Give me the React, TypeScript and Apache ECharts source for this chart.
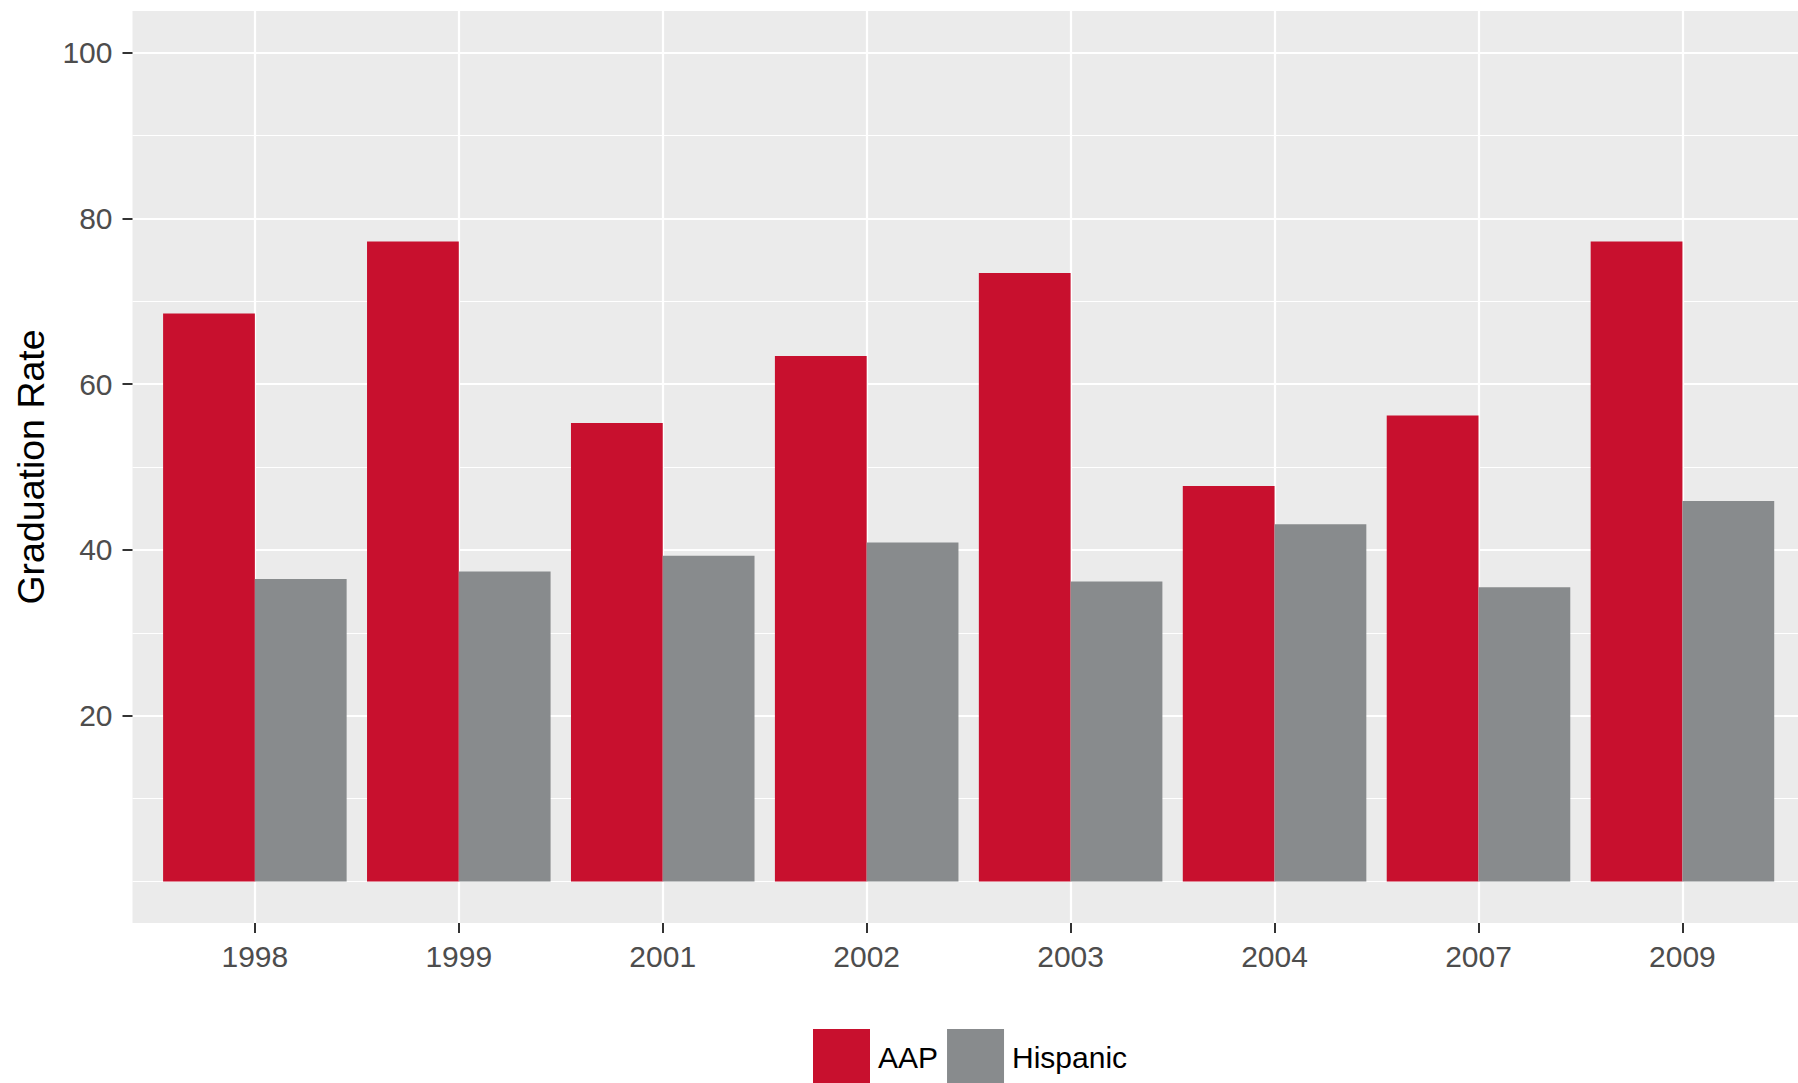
import React, { useEffect, useRef } from "react";
import * as echarts from "echarts";

const years = ["1998", "1999", "2001", "2002", "2003", "2004", "2007", "2009"];
const aapRates = [68.5, 77.2, 55.3, 63.4, 73.4, 47.7, 56.2, 77.2];
const hispanicRates = [36.5, 37.4, 39.3, 40.9, 36.2, 43.1, 35.5, 45.9];
const yTickLabels = [20, 40, 60, 80, 100];

const RED = "#C8102E";
const GRAY = "#888B8D";
const PANEL_BG = "#EBEBEB";
const FONT = "'Liberation Sans', Arial, sans-serif";

// layout (pixels)
const PANEL_LEFT = 132.5;
const PANEL_TOP = 11;
const PANEL_H = 912;
const PANEL_W = 1673;
const CAT_W = 203.94;
const FIRST_CAT = PANEL_LEFT + 0.6 * CAT_W;
const Y_MIN = -5;
const Y_MAX = 105;
const PX = PANEL_H / (Y_MAX - Y_MIN);
const yPix = (v: number) => PANEL_TOP + (Y_MAX - v) * PX;

export default function App() {
  const ref = useRef<HTMLDivElement>(null);
  useEffect(() => {
    document.body.style.margin = "0";
    const chart = echarts.init(ref.current!, undefined, { renderer: "svg" });
    const hidden = { show: false };
    const option: any = {
      animation: false,
      backgroundColor: "#FFFFFF",
      textStyle: { fontFamily: FONT },
      grid: [
        // 0: bars
        { left: FIRST_CAT - 0.5 * CAT_W, top: PANEL_TOP, width: 8 * CAT_W, height: PANEL_H, outerBoundsMode: "none" },
        // 1: panel background
        { left: PANEL_LEFT, top: PANEL_TOP, width: PANEL_W, height: PANEL_H, show: true, backgroundColor: PANEL_BG, borderWidth: 0, outerBoundsMode: "none" },
        // 2: minor horizontal grid
        { left: PANEL_LEFT, top: yPix(100), width: PANEL_W, height: yPix(0) - yPix(100), outerBoundsMode: "none" },
        // 3: major horizontal grid + labels
        { left: PANEL_LEFT, top: yPix(100), width: PANEL_W, height: yPix(20) - yPix(100), outerBoundsMode: "none" },
        // 4: vertical grid lines
        { left: FIRST_CAT, top: PANEL_TOP, width: 7 * CAT_W, height: PANEL_H, outerBoundsMode: "none" },
      ],
      xAxis: [
        {
          gridIndex: 0,
          type: "category",
          data: years,
          position: "bottom",
          axisLine: { show: false, onZero: false },
          axisTick: { show: true, alignWithLabel: true, length: 10, lineStyle: { color: "#333333", width: 2 } },
          axisLabel: { color: "#4D4D4D", fontSize: 30, margin: 18, fontFamily: FONT },
          splitLine: { show: false },
        },
        { gridIndex: 1, type: "value", ...hidden },
        { gridIndex: 2, type: "value", ...hidden },
        { gridIndex: 3, type: "value", ...hidden },
        {
          gridIndex: 4,
          type: "category",
          data: years,
          boundaryGap: false,
          axisLine: { show: false, onZero: false },
          axisTick: { show: false },
          axisLabel: { show: false },
          splitLine: { show: true, interval: 0, lineStyle: { color: "#FFFFFF", width: 2.2 } },
        },
      ],
      yAxis: [
        { gridIndex: 0, type: "value", min: Y_MIN, max: Y_MAX, ...hidden },
        {
          gridIndex: 1,
          type: "value",
          min: 0,
          max: 1,
          axisLine: { show: false, onZero: false },
          axisTick: { show: false },
          axisLabel: { show: false },
          splitLine: { show: false },
          name: "Graduation Rate",
          nameLocation: "middle",
          nameGap: 83,
          nameTextStyle: { fontSize: 37.5, color: "#000000", fontFamily: FONT },
        },
        {
          gridIndex: 2,
          type: "value",
          min: 0,
          max: 100,
          interval: 10,
          axisLine: { show: false, onZero: false },
          axisTick: { show: false },
          axisLabel: { show: false },
          splitLine: { show: true, lineStyle: { color: "#FFFFFF", width: 1.1 } },
        },
        {
          gridIndex: 3,
          type: "value",
          min: yTickLabels[0],
          max: yTickLabels[yTickLabels.length - 1],
          interval: 20,
          axisLine: { show: false, onZero: false },
          axisTick: { show: true, length: 10, lineStyle: { color: "#333333", width: 2 } },
          axisLabel: { color: "#4D4D4D", fontSize: 30, margin: 20, fontFamily: FONT },
          splitLine: { show: true, lineStyle: { color: "#FFFFFF", width: 2.2 } },
        },
        { gridIndex: 4, type: "value", ...hidden },
      ],
      legend: {
        data: ["AAP", "Hispanic"],
        left: 813,
        top: 1029,
        itemWidth: 57,
        itemHeight: 57,
        itemGap: 9,
        icon: "rect",
        padding: 0,
        textStyle: { fontSize: 30, color: "#000000", fontFamily: FONT, padding: [0, 0, 0, 3] },
      },
      series: [
        {
          name: "AAP",
          type: "bar",
          xAxisIndex: 0,
          yAxisIndex: 0,
          data: aapRates,
          itemStyle: { color: RED },
          barGap: "0%",
          barCategoryGap: "10%",
        },
        {
          name: "Hispanic",
          type: "bar",
          xAxisIndex: 0,
          yAxisIndex: 0,
          data: hispanicRates,
          itemStyle: { color: GRAY },
          barGap: "0%",
          barCategoryGap: "10%",
        },
      ],
    };
    chart.setOption(option);
    return () => chart.dispose();
  }, []);
  return (
    <div
      ref={ref}
      style={{ position: "absolute", left: 0, top: 0, width: "1798px", height: "1083px" }}
    />
  );
}
